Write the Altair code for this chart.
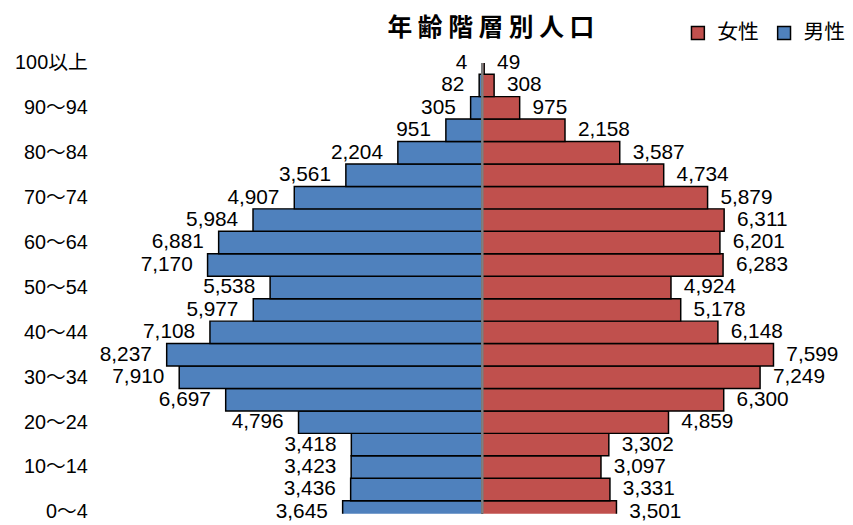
import json
import altair as alt
import pandas as pd

ages = ["0～4", "5～9", "10～14", "15～19", "20～24", "25～29", "30～34",
        "35～39", "40～44", "45～49", "50～54", "55～59", "60～64", "65～69",
        "70～74", "75～79", "80～84", "85～89", "90～94", "95～99", "100以上"]
male = [3645, 3436, 3423, 3418, 4796, 6697, 7910, 8237, 7108, 5977, 5538,
        7170, 6881, 5984, 4907, 3561, 2204, 951, 305, 82, 4]
female = [3501, 3331, 3097, 3302, 4859, 6300, 7249, 7599, 6148, 5178, 4924,
          6283, 6201, 6311, 5879, 4734, 3587, 2158, 975, 308, 49]
sexes = ["女性", "男性"]
colors = ["#C0504D", "#4F81BD"]

rows = []
for i, a in enumerate(ages):
    rows.append({"idx": i, "age": a, "sex": "男性", "value": male[i], "signed": -male[i]})
    rows.append({"idx": i, "age": a, "sex": "女性", "value": female[i], "signed": female[i]})
df = pd.DataFrame(rows)

LATIN = "Liberation Sans, Arial, Noto Sans CJK JP"
CJK = "Noto Sans CJK JP"

xscale = alt.Scale(domain=[-10000, 9000], nice=False, zero=False)
yscale = alt.Scale(domain=[-0.075, 20], nice=False, zero=False)

label_expr = json.dumps(ages, ensure_ascii=False) + "[datum.value]"

base = alt.Chart(df).transform_calculate(lo="datum.idx - 0.5", hi="datum.idx + 0.5")

bars = base.mark_bar(stroke="black", strokeWidth=1.5, clip=True).encode(
    x=alt.X("signed:Q", scale=xscale, axis=None),
    x2=alt.datum(0),
    y=alt.Y("lo:Q", scale=yscale,
            axis=alt.Axis(values=list(range(0, 21, 2)), labelExpr=label_expr,
                          ticks=False, domain=False, grid=False, title=None,
                          labelFontSize=20, labelFont=LATIN, labelColor="black",
                          labelPadding=12, labelAlign="right", labelBaseline="middle")),
    y2="hi:Q",
    color=alt.Color("sex:N", scale=alt.Scale(domain=sexes, range=colors),
                    legend=alt.Legend(title=None, orient="none", direction="horizontal",
                                      legendX=594, legendY=-41,
                                      symbolType="square", symbolSize=169,
                                      symbolStrokeColor="black", symbolStrokeWidth=1.5,
                                      symbolOpacity=1,
                                      labelFontSize=21, labelFont=CJK, labelColor="black",
                                      labelOffset=9, columnPadding=15)),
)

male_text = base.transform_filter("datum.sex == '男性'").mark_text(
    align="right", baseline="middle", dx=-15, fontSize=21, font=LATIN, color="black"
).encode(x=alt.X("signed:Q", scale=xscale), y=alt.Y("idx:Q", scale=yscale),
         text=alt.Text("value:Q", format=","))

female_text = base.transform_filter("datum.sex == '女性'").mark_text(
    align="left", baseline="middle", dx=13, fontSize=21, font=LATIN, color="black"
).encode(x=alt.X("signed:Q", scale=xscale), y=alt.Y("idx:Q", scale=yscale),
         text=alt.Text("value:Q", format=","))

center = alt.Chart(pd.DataFrame({"z": [0]})).mark_rule(color="#808080", strokeWidth=2.5).encode(
    x=alt.X("z:Q", scale=xscale)
)

chart = alt.layer(bars, center, male_text, female_text).properties(
    width=735, height=455,
    title=alt.TitleParams("年 齢 階 層 別 人 口", fontSize=25, font=CJK, fontWeight="bold",
                          anchor="middle", dx=28, offset=-19, color="black"),
    padding={"left": 92, "top": 53, "right": 18, "bottom": 9},
    autosize=alt.AutoSizeParams(type="none"),
).configure_view(stroke=None)

chart.save("out.html", embed_options={"renderer": "svg", "actions": False})
